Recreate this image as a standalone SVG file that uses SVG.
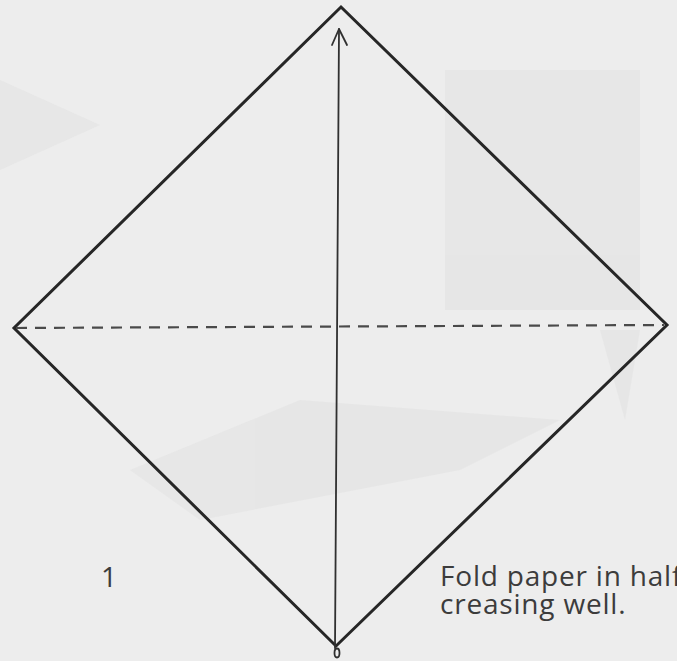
<svg xmlns="http://www.w3.org/2000/svg" width="677" height="661" viewBox="0 0 677 661">
<defs>
<style>
.edge{fill:none;stroke:#262626;stroke-width:3;stroke-linejoin:miter;stroke-linecap:round}
.crease{fill:none;stroke:#4a4a4a;stroke-width:2.2;stroke-dasharray:11 8}
.arrow{fill:none;stroke:#303030;stroke-width:1.8;stroke-linecap:round;stroke-linejoin:round}
.ghost{fill:#e4e4e4;stroke:none}
.lbl{font-family:"Open Sans",Lato,"Liberation Sans",sans-serif;fill:#3c3c3c;font-size:28px;letter-spacing:0.8px}
</style>
</defs>
<rect width="677" height="661" fill="#ededed"/>
<g id="showthrough" opacity="0.7">
<polygon class="ghost" points="0,80 100,125 0,170"/>
<polygon class="ghost" points="445,70 640,70 640,310 445,310"/>
<polygon class="ghost" points="600,330 640,330 625,420"/>
<polygon class="ghost" points="130,470 300,400 560,420 460,470 200,520"/>
</g>
<g id="square">
<polygon class="edge" points="341,7 667,325 336,646 14,328"/>
</g>
<g id="connectors">
<line id="valley-fold" class="crease" x1="16" y1="328" x2="664" y2="325"/>
<g id="fold-arrow">
<line class="arrow" x1="335" y1="648" x2="339" y2="29"/>
<polyline class="arrow" points="332,45 339,29 347,45"/>
<ellipse class="arrow" cx="337" cy="653" rx="2.5" ry="4.5"/>
</g>
</g>
<g id="step-number">
<text class="lbl" x="101" y="587">1</text>
</g>
<g id="caption">
<text class="lbl" x="440" y="586">Fold paper in half</text>
<text class="lbl" x="440" y="614">creasing well.</text>
</g>
</svg>
